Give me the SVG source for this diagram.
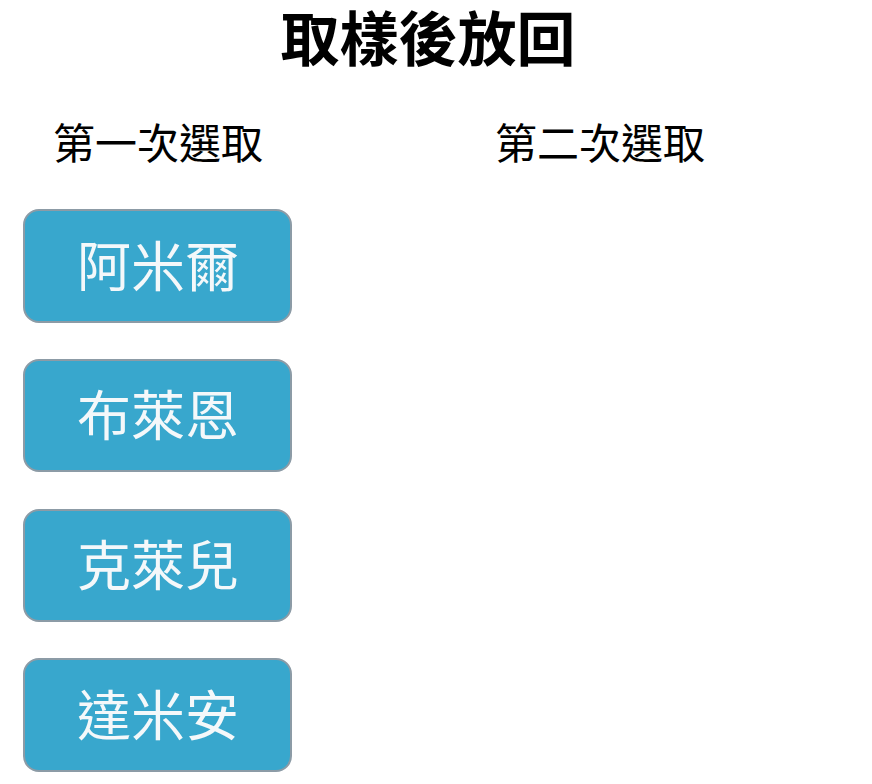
<svg xmlns="http://www.w3.org/2000/svg" width="872" height="784" viewBox="0 0 872 784">
<style>
.title{font-family:"Noto Sans CJK TC","Noto Sans CJK SC",sans-serif;font-weight:700;font-size:59px;fill:#000;text-anchor:middle}
.hdr{font-family:"Noto Sans CJK TC","Noto Sans CJK SC",sans-serif;font-size:42px;fill:#000;text-anchor:middle}
.box{fill:#38a7cd;stroke:#8c9ba6;stroke-width:2}
.lbl{font-family:"Noto Sans CJK TC","Noto Sans CJK SC",sans-serif;font-size:54px;fill:#f4f8fa;text-anchor:middle}
</style>
<rect width="872" height="784" fill="#ffffff"/>
<text class="title" x="428" y="61">取樣後放回</text>
<text class="hdr" x="158" y="159">第一次選取</text>
<text class="hdr" x="600" y="159">第二次選取</text>
<g id="node1"><rect class="box" x="24" y="210" width="267" height="112" rx="15"/><text class="lbl" x="158" y="287">阿米爾</text></g>
<g id="node2"><rect class="box" x="24" y="360" width="267" height="111" rx="15"/><text class="lbl" x="158" y="436">布萊恩</text></g>
<g id="node3"><rect class="box" x="24" y="510" width="267" height="111" rx="15"/><text class="lbl" x="158" y="586">克萊兒</text></g>
<g id="node4"><rect class="box" x="24" y="659" width="267" height="112" rx="15"/><text class="lbl" x="158" y="736">達米安</text></g>
<g id="connectors"></g>
</svg>
